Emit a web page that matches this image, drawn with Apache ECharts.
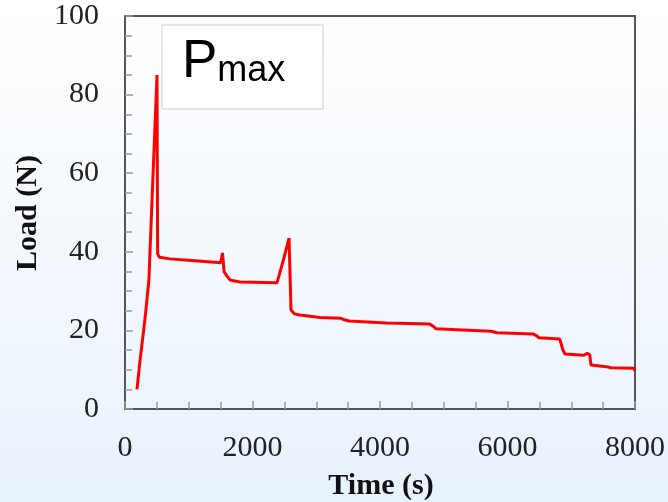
<!DOCTYPE html>
<html>
<head>
<meta charset="utf-8">
<script src="https://cdn.jsdelivr.net/npm/echarts@6/dist/echarts.min.js"></script>
<style>
  html, body { margin: 0; padding: 0; }
  #chart { width: 668px; height: 502px; }
</style>
</head>
<body>
<div id="chart"></div>
<script>
// 时间 (s) 与载荷 (N)
var timeData = [188, 235, 314, 376, 392, 502, 512, 540, 706, 1100, 1500, 1530, 1553, 1600, 1650, 1804, 2384,
  2478, 2573, 2604, 2660, 2745, 3059, 3380, 3404, 3440, 3514, 4100, 4780, 4800, 4840, 4878, 5300, 5740, 5757,
  5790, 5835, 6400, 6416, 6460, 6494, 6820, 6839, 6870, 6902, 7200, 7250, 7290, 7310, 7325, 7580, 7600, 7620,
  7980, 8000];
var loadData = [5, 12.2, 23, 33, 40, 85, 39.5, 38.6, 38.2, 37.7, 37.2, 39.7, 35, 33.8, 32.8, 32.3, 32.1,
  37.5, 43.5, 25.2, 24.2, 23.9, 23.3, 23.1, 23.6, 22.7, 22.4, 21.9, 21.6, 22.0, 21.0, 20.4, 20.1, 19.8, 20.2,
  19.6, 19.4, 19.1, 19.6, 18.6, 18.1, 17.8, 18.0, 15, 14.0, 13.7, 14.2, 13.8, 11.2, 10.9, 10.7, 11.0, 10.5,
  10.4, 9.7];
var xTitle = "Time (s)";
var yTitle = "Load (N)";

var serif = "'Liberation Serif', 'Times New Roman', serif";

var seriesData = [];
for (var i = 0; i < timeData.length; i++) {
  seriesData.push([timeData[i], loadData[i]]);
}

var chart = echarts.init(document.getElementById("chart"));
var option = {
  animation: false,
  backgroundColor: {
    type: "linear", x: 0, y: 0, x2: 0, y2: 1,
    colorStops: [{ offset: 0, color: "#ffffff" }, { offset: 1, color: "#e8f2fc" }]
  },
  grid: {
    left: 125, right: 33, top: 16, bottom: 93,
    outerBoundsMode: "none", containLabel: false,
    show: true, borderColor: "#555", borderWidth: 2, backgroundColor: "transparent"
  },
  xAxis: {
    type: "value",
    min: 0, max: 8000, interval: 2000,
    axisLine: { show: true, lineStyle: { color: "#555", width: 2 } },
    axisTick: { show: true, inside: true, length: 8, lineStyle: { color: "#999", width: 1.5 } },
    minorTick: { show: true, splitNumber: 4, length: 7, lineStyle: { color: "#999", width: 1.5 } },
    splitLine: { show: false },
    axisLabel: {
      color: "#222", fontSize: 30, fontFamily: serif, margin: 24,
      formatter: function (v) { return String(v); }
    }
  },
  yAxis: {
    type: "value",
    min: 0, max: 100, interval: 20,
    axisLine: { show: true, lineStyle: { color: "#555", width: 2 } },
    axisTick: { show: true, inside: true, length: 8, lineStyle: { color: "#999", width: 1.5 } },
    minorTick: { show: true, splitNumber: 4, length: 7, lineStyle: { color: "#999", width: 1.5 } },
    splitLine: { show: false },
    axisLabel: {
      color: "#222", fontSize: 30, fontFamily: serif, margin: 26,
      formatter: function (v) { return String(v); }
    }
  },
  graphic: [
    {
      type: "text", x: 381, y: 486,
      style: { text: xTitle, font: "bold 30px " + serif, fill: "#111", align: "center", verticalAlign: "middle" }
    },
    {
      type: "text", x: 28, y: 213, rotation: Math.PI / 2,
      style: { text: yTitle, font: "bold 30px " + serif, fill: "#111", align: "center", verticalAlign: "middle" }
    },
    {
      type: "rect", shape: { x: 162, y: 25, width: 161, height: 84 },
      style: { fill: "#ffffff", stroke: "#cccccc", lineWidth: 1 }, z: 10
    },
    {
      type: "text", x: 182, y: 89, z: 11,
      style: {
        text: "{p|P}{s|max}",
        verticalAlign: "bottom",
        rich: {
          p: { fontSize: 53, fontFamily: "'Liberation Sans', Arial, sans-serif", fill: "#000", verticalAlign: "bottom" },
          s: { fontSize: 36, fontFamily: "'Liberation Sans', Arial, sans-serif", fill: "#000", verticalAlign: "bottom" }
        }
      }
    }
  ],
  series: [{
    type: "line",
    data: seriesData,
    showSymbol: false,
    smooth: false,
    lineStyle: { color: "#ff0000", width: 3 },
    z: 5
  }]
};
chart.setOption(option);
</script>
</body>
</html>
